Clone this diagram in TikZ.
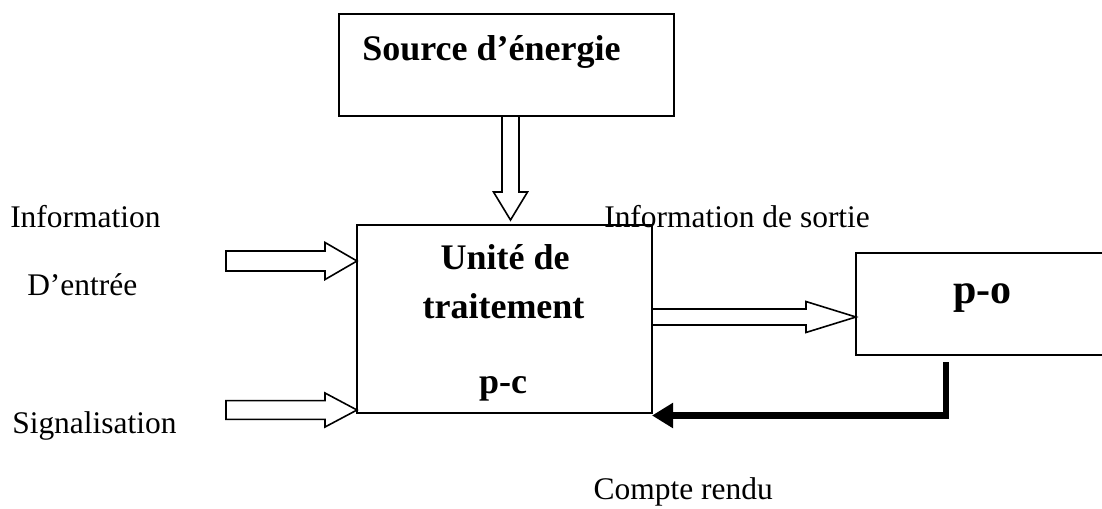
\documentclass[tikz,border=0pt]{standalone}
\usepackage{fontspec}
\setmainfont{Liberation Serif}
\usetikzlibrary{calc,arrows.meta}
\newcommand\rblock[5]{%
  \draw[hollow] let \p1=(#1),\p2=(#2) in
   (\x1,\y2+#3) -- (\x2-#5,\y2+#3) -- (\x2-#5,\y2+#4) -- (\x2,\y2) --
   (\x2-#5,\y2-#4) -- (\x2-#5,\y2-#3) -- (\x1,\y2-#3) -- cycle;}
\newcommand\dblock[5]{%
  \draw[hollow] let \p1=(#1),\p2=(#2) in
   (\x2-#3,\y1) -- (\x2-#3,\y2+#5) -- (\x2-#4,\y2+#5) -- (\x2,\y2) --
   (\x2+#4,\y2+#5) -- (\x2+#3,\y2+#5) -- (\x2+#3,\y1) -- cycle;}
\begin{document}
\begin{tikzpicture}[x=0.75pt,y=-0.75pt,
  box/.style={draw,line width=1.2pt,inner sep=0pt,outer sep=0pt},
  lbl/.style={inner sep=0pt,font=\fontsize{23.6pt}{28pt}\selectfont},
  blbl/.style={inner sep=0pt,font=\fontsize{27pt}{32pt}\selectfont\bfseries},
  hollow/.style={draw,line width=1.2pt,fill=white,line join=miter},
  feedback/.style={line width=5pt,line join=miter,-{Triangle[length=15.75pt,width=18pt]}}]
\useasboundingbox (0,0) rectangle (1102,508);
\clip (0,0) rectangle (1102,508);
\fill[white] (0,0) rectangle (1102,508);
% boxes
\node[box,minimum width=251.25pt,minimum height=76.5pt] (src) at (506.5,65) {};
\node[box,minimum width=221.25pt,minimum height=141pt] (ut) at (504.5,319) {};
\node[box,minimum width=190.5pt,minimum height=76.5pt] (po) at (983,304) {};
% connector end points
\coordinate (dt) at (510.5,116);
\coordinate (dh) at ($(dt |- ut.north)+(0,-5)$);
\coordinate (i1) at (226,261);
\coordinate (i2) at (226,410);
\coordinate (o1) at ($(ut.east)+(0,-2)$);
\coordinate (fb) at ($(po.south)+(-37,7)$);
\coordinate (fbt) at ($(ut.south east)+(0,2.5)$);
% hollow block arrows
\dblock{dt}{dh}{6.4pt}{12.75pt}{21pt}
\rblock{i1}{i1 -| ut.west}{7.5pt}{13.9pt}{24pt}
\rblock{i2}{i2 -| ut.west}{7pt}{12.75pt}{24pt}
\rblock{o1}{o1 -| po.west}{6pt}{11.6pt}{37.5pt}
% feedback
\draw[feedback] (fb) |- (fbt);
% texts
\node[blbl,anchor=base west] (srct) at (362,60) {Source d’énergie};
\node[blbl,anchor=base] (ut1) at (505,269) {Unité de};
\node[blbl,anchor=base] (ut2) at (503.5,318) {traitement};
\node[blbl,anchor=base] (pc) at (503,393) {p-c};
\node[inner sep=0pt,font=\fontsize{31.5pt}{36pt}\selectfont\bfseries,anchor=base] (pot) at (982.5,303) {p-o};
\node[lbl,anchor=base west] (t1) at (10,227) {Information};
\node[lbl,anchor=base west] (t2) at (27,295) {D’entrée};
\node[lbl,anchor=base west] (t3) at (12,433) {Signalisation};
\node[lbl,anchor=base west] (t4) at (604,227) {Information de sortie};
\node[lbl,anchor=base east] (t5) at (773,499) {Compte rendu};
\end{tikzpicture}
\end{document}
